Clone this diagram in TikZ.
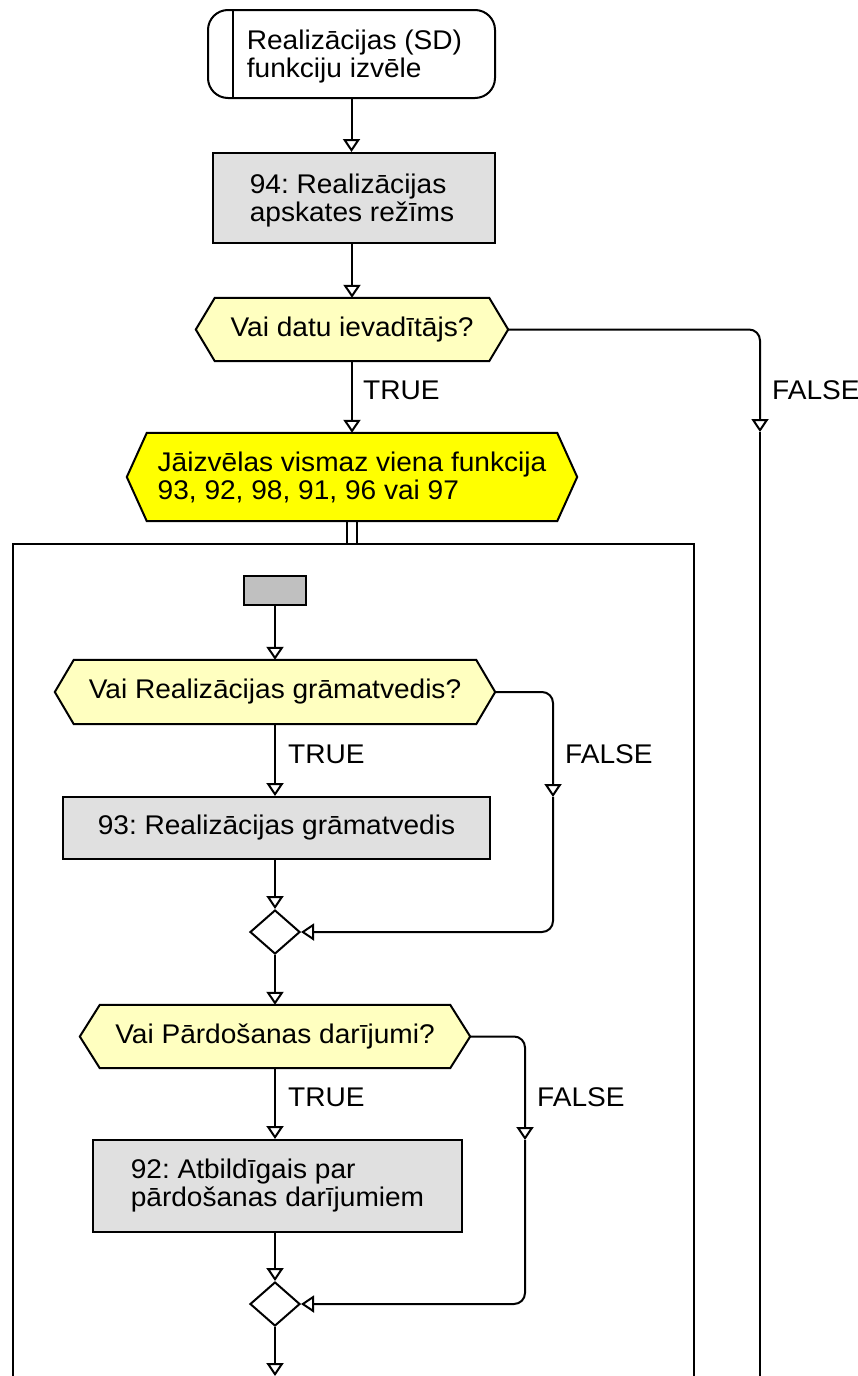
\documentclass[tikz,border=0pt]{standalone}
\usepackage{fontspec}
\setmainfont{Liberation Sans}[FakeStretch=1.04]
\usetikzlibrary{arrows.meta,shapes.geometric,calc}
\pgfdeclarelayer{bg}
\pgfsetlayers{bg,main}
\definecolor{boxgray}{RGB}{224,224,224}
\definecolor{startgray}{RGB}{192,192,192}
\definecolor{paleyellow}{RGB}{255,255,192}
\definecolor{brightyellow}{RGB}{255,255,0}
\frenchspacing
\newcommand\hexshape[3]{%
\begin{pgfonlayer}{bg}
\draw[lw, fill=#3, line join=miter] (#1.west) -- ([xshift=#2pt]#1.north west) -- ([xshift=-#2pt]#1.north east) -- (#1.east) -- ([xshift=-#2pt]#1.south east) -- ([xshift=#2pt]#1.south west) -- cycle;
\end{pgfonlayer}}
\begin{document}
\begin{tikzpicture}[x=1pt,y=-1pt,
  lw/.style={line width=2pt},
  every node/.style={font=\fontsize{27}{28}\selectfont, text=black},
  proc/.style={draw, lw, fill=boxgray, rectangle, inner sep=0pt, align=left},
  hexn/.style={inner sep=0pt, align=left},
  txt/.style={inner sep=0pt, align=left},
  merge/.style={draw, lw, diamond, fill=white, inner sep=0pt, minimum width=50pt, minimum height=44pt},
  flow/.style={lw, -{Triangle[open, length=13pt, width=17pt, line width=2pt]}},
  lbl/.style={anchor=west, inner sep=0pt},
]
\useasboundingbox (0,0) rectangle (858,1376);
\clip (0,0) rectangle (858,1376);

% top part
\node[draw, lw, rounded corners=20pt, minimum width=287pt, minimum height=88pt, inner sep=0pt] (term) at (351.5,54) {};
\node[txt] (termt) at ([xshift=3pt,yshift=-3pt]term.center) {Realizācijas (SD)\\funkciju izvēle};
\draw[lw] ([xshift=26pt]term.north west) -- ([xshift=26pt]term.south west);

\node[proc, minimum width=282pt, minimum height=90pt] (b94) at (354,198) {};
\node[txt] (b94t) at ([xshift=-2pt,yshift=-3pt]b94.center) {94: Realizācijas\\apskates režīms};

\node[hexn, minimum width=312pt, minimum height=63pt] (h1) at (352,329.5) {Vai datu ievadītājs?};
\hexshape{h1}{19}{paleyellow}

\node[hexn, minimum width=450pt, minimum height=88pt] (yel) at (352,477) {Jāizvēlas vismaz viena funkcija\\93, 92, 98, 91, 96 vai 97};
\hexshape{yel}{20}{brightyellow}

\node[draw, lw, anchor=north west, minimum width=681pt, minimum height=1000pt, inner sep=0pt] (cont) at (12,543) {};

% inner part
\node[draw, lw, fill=startgray, minimum width=62pt, minimum height=29pt, inner sep=0pt] (s0) at (275,590.5) {};

\node[hexn, minimum width=440pt, minimum height=64pt] (h2) at (275,692) {Vai Realizācijas grāmatvedis?};
\hexshape{h2}{19}{paleyellow}

\node[proc, minimum width=427pt, minimum height=62pt] (b93) at (276.5,828) {93: Realizācijas grāmatvedis};

\node[merge] (d1) at (275,932) {};

\node[hexn, minimum width=390pt, minimum height=63pt] (h3) at (275,1036.5) {Vai Pārdošanas darījumi?};
\hexshape{h3}{20}{paleyellow}

\node[proc, minimum width=369pt, minimum height=92pt] (b92) at (277.5,1186) {92: Atbildīgais par\\pārdošanas darījumiem};

\node[merge] (d2) at (275,1304) {};

\coordinate (endpt) at (275,1376);
\coordinate (f1) at (760,432);
\coordinate (f1end) at (760,1400);
\coordinate (f2) at (553,797);
\coordinate (f3) at (525,1140);

% connectors
\draw[flow] (term.south) -- (term.south |- b94.north);
\draw[flow] (b94.south -| h1.north) -- (h1.north);
\draw[flow] (h1.south) -- (yel.north);
\draw[flow, rounded corners=11pt] (h1.east) -- (h1.east -| f1) -- (f1);
\draw[lw] (f1) -- (f1end);
\draw[lw] ([xshift=-5pt]yel.south) -- ([xshift=-5pt]yel.south |- cont.north);
\draw[lw] ([xshift=5pt]yel.south) -- ([xshift=5pt]yel.south |- cont.north);

\draw[flow] (s0.south) -- (h2.north);
\draw[flow] (h2.south) -- (h2.south |- b93.north);
\draw[flow, rounded corners=11pt] (h2.east) -- (h2.east -| f2) -- (f2);
\draw[flow, rounded corners=11pt] (f2) -- (f2 |- d1.east) -- (d1.east);
\draw[flow] (b93.south -| d1.north) -- (d1.north);
\draw[flow] (d1.south) -- (h3.north);
\draw[flow] (h3.south) -- (h3.south |- b92.north);
\draw[flow, rounded corners=11pt] (h3.east) -- (h3.east -| f3) -- (f3);
\draw[flow, rounded corners=11pt] (f3) -- (f3 |- d2.east) -- (d2.east);
\draw[flow] (b92.south -| d2.north) -- (d2.north);
\draw[flow] (d2.south) -- (endpt);

% labels
\node[lbl] (t1) at (363,390) {TRUE};
\node[lbl] (fl1) at (772,390) {FALSE};
\node[lbl] (t2) at (288,754) {TRUE};
\node[lbl] (fl2) at (565,754) {FALSE};
\node[lbl] (t3) at (288,1097) {TRUE};
\node[lbl] (fl3) at (537,1097) {FALSE};
\end{tikzpicture}
\end{document}
